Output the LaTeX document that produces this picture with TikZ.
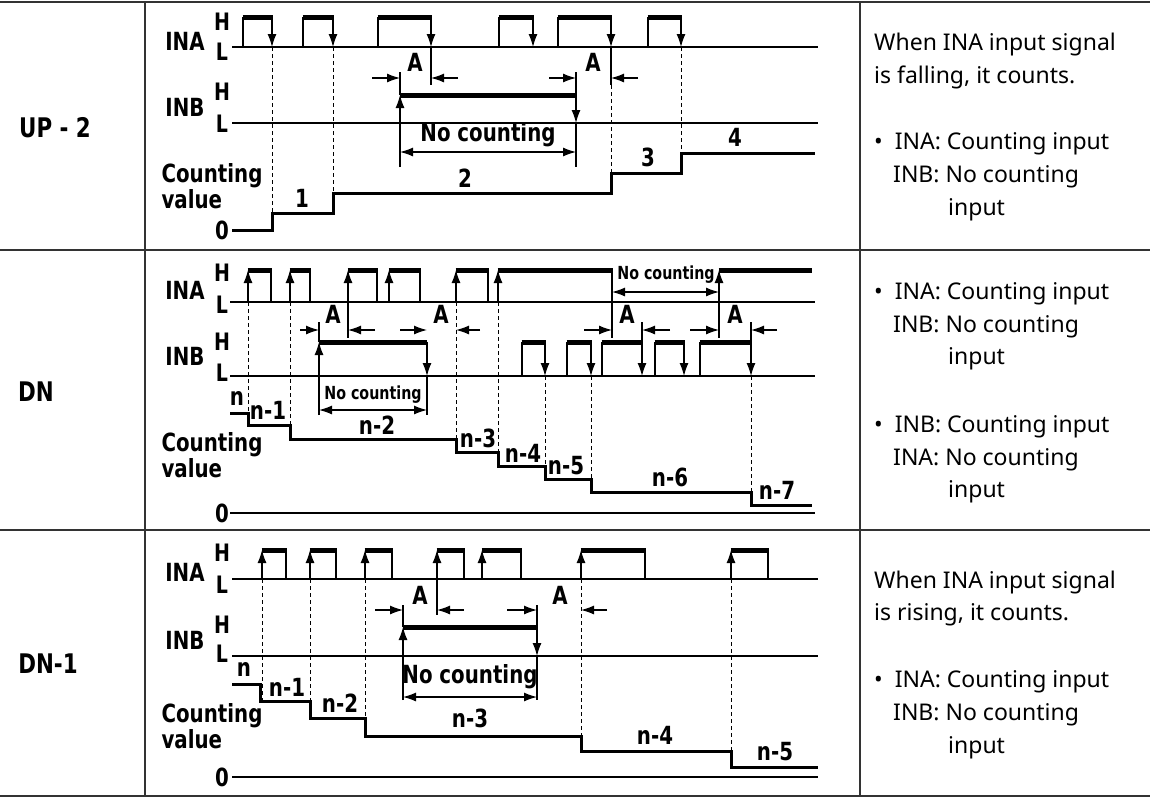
\documentclass[tikz,border=0pt]{standalone}
\usepackage{fontspec}
\setmainfont{Noto Sans}
\newfontfamily\labf{DejaVu Sans Condensed}[FakeStretch=0.88]
\usetikzlibrary{arrows.meta}
\begin{document}
\begin{tikzpicture}[x=1pt,y=-1pt,
 sig/.style={line width=1.5pt},
 hbar/.style={line width=5pt},
 edge/.style={line width=1.2pt},
 cnt/.style={line width=3pt},
 dsh/.style={dashed,dash pattern=on 4pt off 3pt,line width=0.8pt},
 arr/.style={-{Latex[length=13pt,width=9pt]},line width=1.2pt},
 darr/.style={{Latex[length=13pt,width=9pt]}-{Latex[length=13pt,width=9pt]},line width=1.2pt},
 lab/.style={font=\labf\bfseries\fontsize{25}{24}\selectfont,inner sep=0pt},
 slab/.style={font=\labf\bfseries\fontsize{24}{24}\selectfont,inner sep=0pt},
 tlab/.style={font=\labf\bfseries\fontsize{18}{18}\selectfont,inner sep=0pt},
 rt/.style={font=\fontsize{23}{23}\selectfont,anchor=west,inner sep=0pt},
 grid/.style={line width=1.2pt,black!80}]
\useasboundingbox (0,0) rectangle (1150,798);
% table
\draw[grid] (0,2)--(1150,2); \draw[grid] (0,250)--(1150,250);
\draw[grid] (0,530)--(1150,530); \draw[grid] (0,796)--(1150,796);
\draw[grid] (145,2)--(145,796); \draw[grid] (860,2)--(860,796);
\node[lab,font=\labf\bfseries\fontsize{27}{27}\selectfont] (t1) at (55,128) {UP - 2};
\node[lab,font=\labf\bfseries\fontsize{27}{27}\selectfont] (t2) at (36,392) {DN};
\node[lab,font=\labf\bfseries\fontsize{27}{27}\selectfont] (t3) at (48,664) {DN-1};
% ================= Section 1
\node[lab] (a1) at (185,41) {INA}; \node[slab] (a1h) at (222,22) {H}; \node[slab] (a1l) at (222,52) {L};
\node[lab] (b1) at (185,107) {INB}; \node[slab] (b1h) at (222,92) {H}; \node[slab] (b1l) at (222,124) {L};
\node[lab,align=left] (c1) at (212,186) {Counting\\value};
\node[lab] (z1) at (222,230) {0};
\draw[sig] (232,47)--(818,47);
\foreach \a/\b in {243/272,303/333,378/431,499/533,558/611,648/681}{
 \draw[edge] (\a,47)--(\a,17); \draw[hbar] (\a-0.5,17)--(\b+0.5,17); \draw[arr] (\b,17)--(\b,47);}
\draw[edge] (431,47)--(431,85); \draw[edge] (611,47)--(611,85);
\draw[dsh] (272,47)--(272,213); \draw[dsh] (333,47)--(333,193);
\draw[dsh] (611,85)--(611,173); \draw[dsh] (681,47)--(681,153);
\draw[sig] (232,123)--(818,123);
\draw[hbar] (400,95)--(576,95);
\draw[arr] (400,167)--(400,95); \draw[edge] (400,95)--(400,72);
\draw[edge] (576,72)--(576,95); \draw[arr] (576,95)--(576,123); \draw[edge] (576,123)--(576,167);
\draw[arr] (372,78)--(400,78); \draw[arr] (458,78)--(431,78); \node[lab] (A1) at (415,62) {A};
\draw[arr] (549,78)--(576,78); \draw[arr] (638,78)--(611,78); \node[lab] (A2) at (593,62) {A};
\draw[darr] (400,152)--(576,152); \node[lab] (nc1) at (488,135) {No counting};
\draw[cnt] (232,230)-|(272,213)-|(333,193)-|(611,173)-|(681,153)--(815,153);
\node[lab] (v1) at (302,198) {1}; \node[lab] (v2) at (465,178) {2};
\node[lab] (v3) at (648,157) {3}; \node[lab] (v4) at (735,137) {4};
\node[rt] (r11) at (874,45) {When INA input signal};
\node[rt] (r12) at (874,77) {is falling, it counts.};
\node[rt] (r13) at (874,144) {•\ \ INA: Counting input};
\node[rt] (r14) at (893,177) {INB: No counting};
\node[rt] (r15) at (948,210) {input};
% ================= Section 2
\node[lab] (a2) at (185,290) {INA}; \node[slab] (a2h) at (222,273) {H}; \node[slab] (a2l) at (222,305) {L};
\node[lab] (b2) at (185,356) {INB}; \node[slab] (b2h) at (222,342) {H}; \node[slab] (b2l) at (222,373) {L};
\node[lab,align=left] (c2) at (212,455) {Counting\\value};
\node[lab] (z2) at (222,513) {0};
\draw[sig] (230,302)--(815,302);
\foreach \a/\b in {248/271,290/310,348/377,389/420,456/488,498/612}{
 \draw[arr] (\a,302)--(\a,270); \draw[hbar] (\a-0.5,270)--(\b+0.5,270); \draw[edge] (\b,270)--(\b,302);}
\draw[arr] (719,302)--(719,270); \draw[hbar] (718.5,270)--(812,270);
\draw[edge] (348,302)--(348,338); \draw[edge] (719,302)--(719,338); \draw[edge] (612,302)--(612,338);
\draw[darr] (612,292)--(719,292); \node[tlab] (nc2) at (666,275) {No counting};
\draw[dsh] (248,302)--(248,425); \draw[dsh] (290,302)--(290,439);
\draw[dsh] (456,302)--(456,452); \draw[dsh] (498,302)--(498,466);
\draw[dsh] (545,376)--(545,479); \draw[dsh] (591,376)--(591,492); \draw[dsh] (751,376)--(751,505);
\draw[sig] (230,376)--(815,376);
\draw[hbar] (319,342)--(427,342);
\draw[arr] (319,415)--(319,342); \draw[edge] (319,342)--(319,322);
\draw[arr] (427,342)--(427,376); \draw[edge] (427,376)--(427,415);
\foreach \a/\b in {522/545,567/591,602/642,655/684,700/751}{
 \draw[edge] (\a,376)--(\a,342); \draw[hbar] (\a-0.5,342)--(\b+0.5,342); \draw[arr] (\b,342)--(\b,376);}
\draw[edge] (642,342)--(642,322); \draw[edge] (751,342)--(751,322);
\draw[arr] (300,330)--(319,330); \draw[arr] (375,330)--(348,330); \node[lab] (A3) at (333,314) {A};
\draw[arr] (400,330)--(427,330); \draw[arr] (480,330)--(456,330); \node[lab] (A4) at (441,314) {A};
\draw[arr] (584,330)--(612,330); \draw[arr] (670,330)--(642,330); \node[lab] (A5) at (627,314) {A};
\draw[arr] (690,330)--(719,330); \draw[arr] (777,330)--(751,330); \node[lab] (A6) at (735,314) {A};
\draw[darr] (319,410)--(427,410); \node[tlab] (nc3) at (373,395) {No counting};
\draw[cnt] (230,413)-|(248,425)-|(290,439)-|(456,452)-|(498,466)-|(545,479)-|(591,492)-|(751,505)--(812,505);
\draw[sig] (230,513)--(815,513);
\node[lab] (w0) at (237,398) {n}; \node[lab] (w1) at (268,410) {n-1};
\node[lab] (w2) at (377,425) {n-2}; \node[lab] (w3) at (478,438) {n-3};
\node[lab] (w4) at (523,453) {n-4}; \node[lab] (w5) at (566,466) {n-5};
\node[lab] (w6) at (670,477) {n-6}; \node[lab] (w7) at (777,490) {n-7};
\node[rt] (r21) at (874,294) {•\ \ INA: Counting input};
\node[rt] (r22) at (893,327) {INB: No counting};
\node[rt] (r23) at (948,359) {input};
\node[rt] (r24) at (874,427) {•\ \ INB: Counting input};
\node[rt] (r25) at (893,460) {INA: No counting};
\node[rt] (r26) at (948,492) {input};
% ================= Section 3
\node[lab] (a3) at (185,572) {INA}; \node[slab] (a3h) at (222,553) {H}; \node[slab] (a3l) at (222,585) {L};
\node[lab] (b3) at (185,640) {INB}; \node[slab] (b3h) at (222,625) {H}; \node[slab] (b3l) at (222,654) {L};
\node[lab,align=left] (c3) at (212,726) {Counting\\value};
\node[lab] (z3) at (222,777) {0};
\draw[sig] (232,579)--(818,579);
\foreach \a/\b in {262/286,310/336,365/392,437/464,482/521,581/645,731/768}{
 \draw[arr] (\a,579)--(\a,550); \draw[hbar] (\a-0.5,550)--(\b+0.5,550); \draw[edge] (\b,550)--(\b,579);}
\draw[edge] (437,579)--(437,615);
\draw[dsh] (262,579)--(262,701); \draw[dsh] (310,579)--(310,718); \draw[dsh] (365,579)--(365,736);
\draw[dsh] (581,579)--(581,751); \draw[dsh] (731,579)--(731,767);
\draw[sig] (232,656)--(818,656);
\draw[hbar] (403,627)--(537,627);
\draw[arr] (403,700)--(403,627); \draw[edge] (403,627)--(403,605);
\draw[edge] (537,605)--(537,627); \draw[arr] (537,627)--(537,656); \draw[edge] (537,656)--(537,700);
\draw[arr] (375,610)--(403,610); \draw[arr] (464,610)--(437,610); \node[lab] (A7) at (420,595) {A};
\draw[arr] (507,610)--(537,610); \draw[arr] (607,610)--(581,610); \node[lab] (A8) at (560,595) {A};
\draw[darr] (403,697)--(537,697); \node[lab] (nc4) at (470,677) {No counting};
\draw[cnt] (232,684)-|(260,701)-|(310,718)-|(365,736)-|(581,751)-|(731,767)--(818,767);
\draw[sig] (232,777)--(818,777);
\node[lab] (u0) at (244,669) {n}; \node[lab] (u1) at (287,687) {n-1};
\node[lab] (u2) at (340,703) {n-2}; \node[lab] (u3) at (470,718) {n-3};
\node[lab] (u4) at (655,735) {n-4}; \node[lab] (u5) at (775,752) {n-5};
\node[rt] (r31) at (874,583) {When INA input signal};
\node[rt] (r32) at (874,615) {is rising, it counts.};
\node[rt] (r33) at (874,682) {•\ \ INA: Counting input};
\node[rt] (r34) at (893,715) {INB: No counting};
\node[rt] (r35) at (948,748) {input};
\end{tikzpicture}
\end{document}
